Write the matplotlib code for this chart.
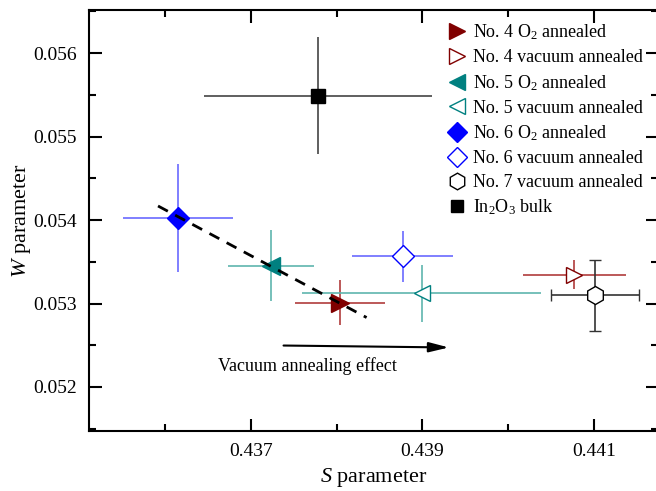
import matplotlib.pyplot as plt
from matplotlib.lines import Line2D

plt.rcParams['font.family'] = ['Liberation Serif', 'DejaVu Serif']
plt.rcParams['mathtext.fontset'] = 'custom'
plt.rcParams['mathtext.rm'] = 'Liberation Serif'
plt.rcParams['mathtext.it'] = 'Liberation Serif:italic'

## data
labels = ['No. 4 O$_2$ annealed', 'No. 4 vacuum annealed',
          'No. 5 O$_2$ annealed', 'No. 5 vacuum annealed',
          'No. 6 O$_2$ annealed', 'No. 6 vacuum annealed',
          'No. 7 vacuum annealed', 'In$_2$O$_3$ bulk']
s_val = [0.43804, 0.44077, 0.43724, 0.43899, 0.43615, 0.43877, 0.44101, 0.43778]
w_val = [0.05301, 0.053347, 0.053455, 0.05312, 0.054024, 0.053563, 0.05310, 0.055491]
s_err = [0.00053, 0.0006, 0.0005, 0.00139, 0.00064, 0.00059, 0.00051, 0.00133]
w_err = [0.00027, 0.00017, 0.00043, 0.00034, 0.00065, 0.0003, 0.000425, 0.0007]

markers = ['>', '>', '<', '<', 'D', 'D', 'h', 's']
mcolors = ['#800000', '#800000', '#008080', '#008080', '#0000ff', '#0000ff', '#000000', '#000000']
filled = [True, False, True, False, True, False, False, True]
ecolors = ['#b03c3c', '#b03c3c', '#5fb5ae', '#5fb5ae', '#6a6aff', '#6a6aff', '#333333', '#444444']
msizes = [13, 12, 13, 12, 11, 11, 13, 10]
caps = [0, 0, 0, 0, 0, 0, 4, 0]

trend_s = [0.43592, 0.43835]
trend_w = [0.054168, 0.052832]

fig = plt.figure(figsize=(6.56, 4.91), dpi=100)
ax = fig.add_axes([0.1357, 0.1222, 0.868, 0.8574])

handles = []
for i in range(len(labels)):
    mfc = mcolors[i] if filled[i] else 'white'
    ax.errorbar(s_val[i], w_val[i], xerr=s_err[i], yerr=w_err[i],
                fmt=markers[i], ms=msizes[i], mfc=mfc,
                mec=mcolors[i], mew=1.0, ecolor=ecolors[i], elinewidth=1.2,
                capsize=caps[i], capthick=1.2, zorder=3)
    handles.append(Line2D([], [], ls='none', marker=markers[i], ms=msizes[i] - 1,
                          mfc=mfc, mec=mcolors[i], mew=1.0, label=labels[i]))

ax.plot(trend_s, trend_w, 'k--', lw=2, dashes=(4, 3), zorder=4)

ax.annotate('', xy=(0.43934, 0.052473), xytext=(0.43735, 0.052497),
            arrowprops=dict(arrowstyle='-|>,head_length=1.2,head_width=0.3', color='k', lw=1.5))
ax.text(0.43766, 0.05225, 'Vacuum annealing effect', ha='center', va='center', fontsize=13)

ax.set_xlim(0.435116, 0.44175)
ax.set_ylim(0.051473, 0.056515)
ax.set_xticks([0.437, 0.439, 0.441])
ax.set_xticks([0.436, 0.438, 0.440], minor=True)
ax.set_yticks([0.052, 0.053, 0.054, 0.055, 0.056])
ax.set_yticks([0.0515, 0.0525, 0.0535, 0.0545, 0.0555, 0.0565], minor=True)
ax.set_xticklabels(['0.437', '0.439', '0.441'])
ax.tick_params(which='both', direction='in', top=True, right=True, labelsize=14, width=1.5)
ax.tick_params(which='major', length=9, pad=9)
ax.tick_params(which='minor', length=5)
for sp in ax.spines.values():
    sp.set_linewidth(1.5)

ax.set_xlabel('$\\mathit{S}$ parameter', fontsize=16, labelpad=4)
ax.set_ylabel('$\\mathit{W}$ parameter', fontsize=16, labelpad=0)

ax.legend(handles=handles, loc='upper left', bbox_to_anchor=(0.605, 1.0), frameon=False,
          fontsize=13, handletextpad=0.3, labelspacing=0.38, borderaxespad=0.3,
          handlelength=1.2)

fig.savefig('out.png', dpi=100)
